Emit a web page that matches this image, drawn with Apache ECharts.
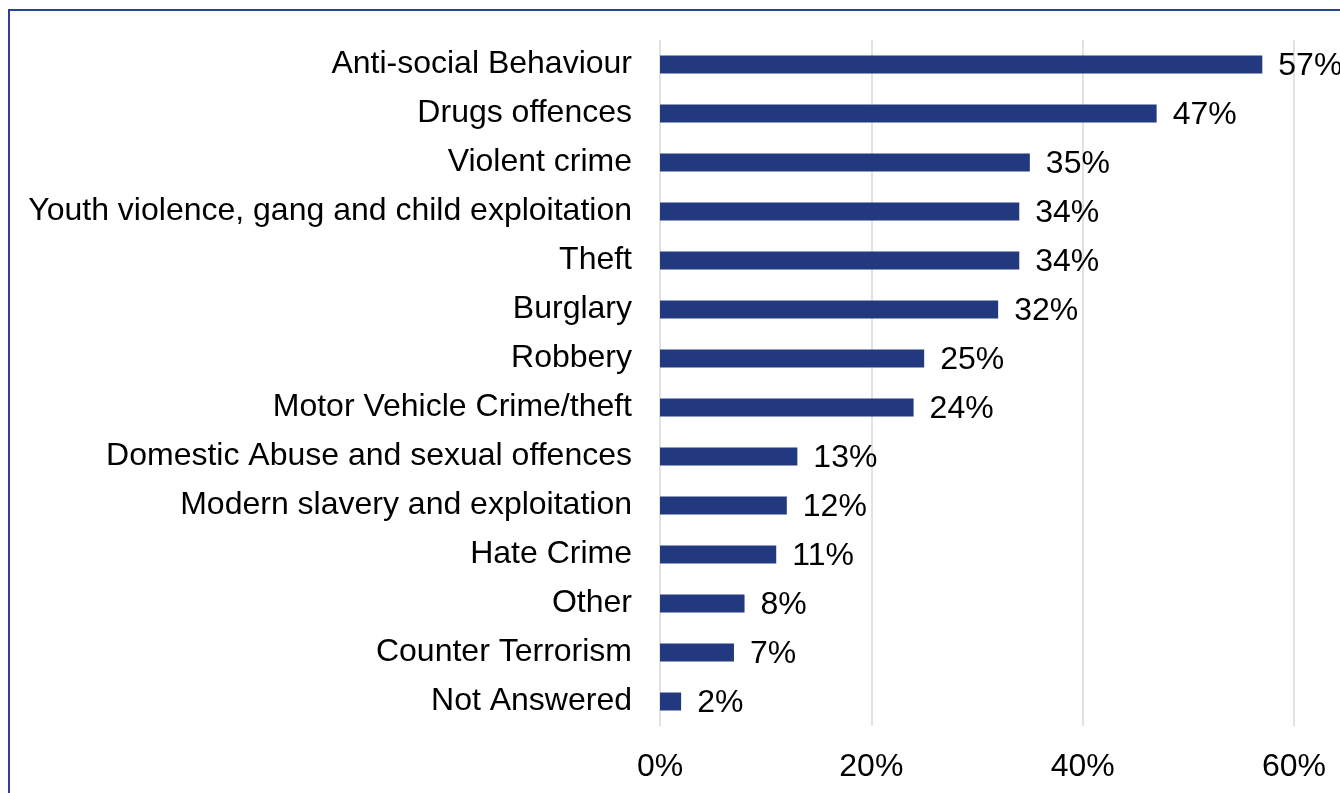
<!DOCTYPE html>
<html>
<head>
<meta charset="utf-8">
<title>Crime types</title>
<script src="https://cdn.jsdelivr.net/npm/echarts@6/dist/echarts.min.js"></script>
<style>
  html, body { margin: 0; padding: 0; background: #fff; }
  #chart { width: 1340px; height: 793px; }
</style>
</head>
<body>
<div id="chart"></div>
<script>
// Crime categories, listed top to bottom
const categories = [
  'Anti-social Behaviour',
  'Drugs offences',
  'Violent crime',
  'Youth violence, gang and child exploitation',
  'Theft',
  'Burglary',
  'Robbery',
  'Motor Vehicle Crime/theft',
  'Domestic Abuse and sexual offences',
  'Modern slavery and exploitation',
  'Hate Crime',
  'Other',
  'Counter Terrorism',
  'Not Answered'
];

// Share of responses (%)
const percentages = [57, 47, 35, 34, 34, 32, 25, 24, 13, 12, 11, 8, 7, 2];

// Value-axis ticks
const axisMin = 0;
const axisMax = 60;
const axisStep = 20;

const FONT = '"Liberation Sans", Arial, sans-serif';
const BAR_COLOR = '#22387F';

const chart = echarts.init(document.getElementById('chart'), null, { renderer: 'canvas' });

chart.setOption({
  backgroundColor: '#ffffff',
  animation: false,
  graphic: [{
    type: 'rect',
    shape: { x: 9, y: 10, width: 1400, height: 900 },
    style: { fill: 'none', stroke: '#2D4391', lineWidth: 2 },
    silent: true,
    z: 100
  }],
  grid: { left: 660, right: 46, top: 40, bottom: 67, containLabel: false },
  xAxis: {
    type: 'value',
    min: axisMin,
    max: axisMax,
    interval: axisStep,
    axisLine: { show: false },
    axisTick: { show: false },
    splitLine: { show: true, lineStyle: { color: '#D9D9D9', width: 1.5 } },
    axisLabel: {
      formatter: '{value}%',
      color: '#000',
      fontFamily: FONT,
      fontSize: 32,
      margin: 25
    }
  },
  yAxis: {
    type: 'category',
    data: categories,
    inverse: true,
    axisLine: { show: false },
    axisTick: { show: false },
    splitLine: { show: false },
    axisLabel: {
      color: '#000',
      fontFamily: FONT,
      fontSize: 32,
      margin: 28,
      padding: [4, 0, 0, 0]
    }
  },
  series: [{
    type: 'bar',
    data: percentages,
    barWidth: 18,
    itemStyle: { color: BAR_COLOR },
    label: {
      show: true,
      position: 'right',
      distance: 16,
      offset: [0, 2],
      formatter: '{c}%',
      color: '#000',
      fontFamily: FONT,
      fontSize: 32
    }
  }]
});
</script>
</body>
</html>
